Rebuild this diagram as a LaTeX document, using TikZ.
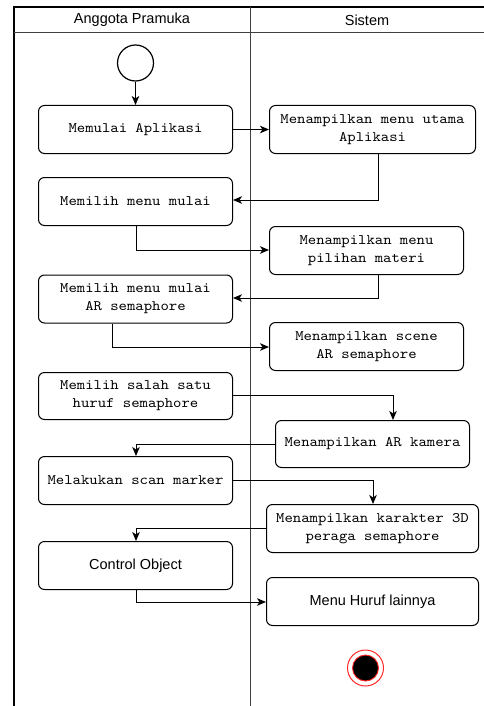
\documentclass[tikz,border=0pt]{standalone}
\usepackage{fontspec}
\setmainfont{Liberation Sans}
\newfontfamily\boxmono{lmmono10-regular.otf}[FakeStretch=1.1]
\usetikzlibrary{arrows.meta}
\begin{document}
\begin{tikzpicture}[x=1pt,y=-1pt,
  act/.style={draw=black, line width=1pt, rounded corners=6pt, minimum height=48pt, inner sep=0pt, anchor=north west, align=center, font=\boxmono\fontsize{14.5}{18}\selectfont},
  actsans/.style={act, font=\fontsize{14.5}{18}\selectfont},
  flow/.style={draw=black, line width=1pt, -{Stealth[length=9pt,width=7.5pt,inset=2.5pt]}},
  lane/.style={line width=1.1pt, draw=black!75}]
\useasboundingbox (0,0) rectangle (484,706);
% swimlane frame
\draw[line width=1.1pt] (14,706) -- (14,7) -- (484,7);
\draw[lane] (14,32.5) -- (484,32.5);
\draw[lane] (250.5,7) -- (250.5,706);
\node[font=\fontsize{14.5}{16}\selectfont] (h1) at (132,20) {Anggota Pramuka};
\node[font=\fontsize{14.5}{16}\selectfont] (h2) at (367,20) {Sistem};
% start
\node[draw, circle, line width=1.2pt, minimum size=36pt, inner sep=0pt] (start) at (135.5,63) {};
% left lane
\node[act, minimum width=194pt] (a1) at (38,105) {Memulai Aplikasi};
\node[act, minimum width=194pt] (a2) at (38,177) {Memilih menu mulai};
\node[act, minimum width=194pt] (a3) at (38,274.5) {Memilih menu mulai\\AR semaphore};
\node[act, minimum width=194pt, minimum height=47pt] (a4) at (38,372) {Memilih salah satu\\ huruf semaphore};
\node[act, minimum width=194pt] (a5) at (38,456) {Melakukan scan marker};
\node[actsans, minimum width=194pt] (a6) at (38,541) {Control Object};
% right lane
\node[act, minimum width=206pt] (b1) at (269,105) {Menampilkan menu utama\\Aplikasi};
\node[act, minimum width=194pt] (b2) at (269,226) {Menampilkan menu\\ pilihan materi};
\node[act, minimum width=194pt] (b3) at (269,322) {Menampilkan scene\\AR semaphore};
\node[act, minimum width=194pt, minimum height=47pt] (b4) at (275,420) {Menampilkan AR kamera};
\node[act, minimum width=212pt] (b5) at (266,504) {Menampilkan karakter 3D\\ peraga semaphore};
\node[actsans, minimum width=212pt] (b6) at (266,577) {Menu Huruf lainnya};
% end
\node[draw=red!85, circle, line width=1pt, minimum size=36pt, inner sep=0pt] (end) at (365.5,668) {};
\node[draw=red!85, fill=black, circle, line width=0.9pt, minimum size=26pt, inner sep=0pt] (endin) at (365.5,668) {};
% connectors
\draw[flow] (start.south) -- (a1.north -| start.south);
\draw[flow] (a1.east) -- (a1.east -| b1.west);
\coordinate (c1) at (378,200);
\draw[flow] (b1.south -| c1) |- (a2.east |- c1);
\coordinate (c2) at (136,250);
\draw[flow] (a2.south -| c2) |- (b2.west |- c2);
\coordinate (c3) at (378,298);
\draw[flow] (b2.south -| c3) |- (a3.east |- c3);
\coordinate (c4) at (112,347);
\draw[flow] (a3.south -| c4) |- (b3.west |- c4);
\coordinate (c5) at (393,395);
\draw[flow] (a4.east |- c5) -| (b4.north -| c5);
\coordinate (c6) at (136,444);
\draw[flow] (b4.west |- c6) -| (a5.north -| c6);
\coordinate (c7) at (373,480);
\draw[flow] (a5.east |- c7) -| (b5.north -| c7);
\coordinate (c8) at (136,528);
\draw[flow] (b5.west |- c8) -| (a6.north -| c8);
\coordinate (c9) at (136,602);
\draw[flow] (a6.south -| c9) |- (b6.west |- c9);
\end{tikzpicture}
\end{document}
